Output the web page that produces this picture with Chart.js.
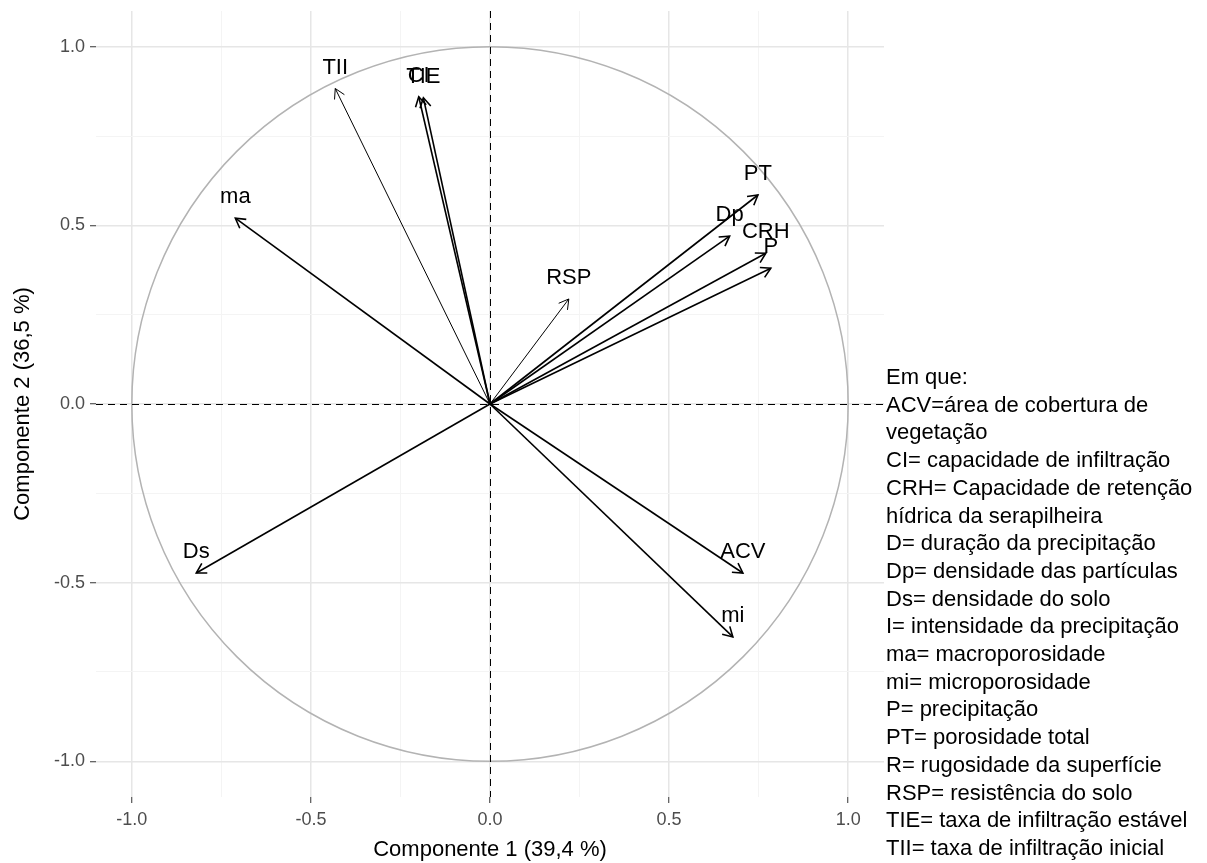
<!DOCTYPE html>
<html lang="pt">
<head>
<meta charset="utf-8">
<title>Círculo de correlações - Componentes 1 e 2</title>
<script src="https://cdn.jsdelivr.net/npm/chart.js@4.4.1/dist/chart.umd.min.js"></script>
<style>
  html, body { margin: 0; padding: 0; background: #ffffff; }
  #wrap { width: 1207px; height: 863px; position: relative; }
  canvas { display: block; }
</style>
</head>
<body>
<div id="wrap"><canvas id="pca" width="1207" height="863"></canvas></div>
<script>
// Variable codes and their loadings on the first two components
const variables = ['TII', 'CI', 'TIE', 'ma', 'Ds', 'RSP', 'PT', 'Dp', 'CRH', 'P', 'ACV', 'mi'];
const comp1 = [-0.432, -0.199, -0.186, -0.711, -0.820, 0.220, 0.748, 0.669, 0.770, 0.784, 0.706, 0.678];
const comp2 = [0.883, 0.860, 0.857, 0.520, -0.473, 0.294, 0.585, 0.470, 0.422, 0.380, -0.473, -0.652];

// Lines drawn with a lighter stroke
const thinLines = ['TII', 'RSP'];

// Axis ticks (labelled) and minor grid positions
const majorTicks = [-1, -0.5, 0, 0.5, 1];
const minorTicks = [-0.75, -0.25, 0.25, 0.75];
const axisLimits = [-1.1, 1.1];

const xTitle = 'Componente 1 (39,4 %)';
const yTitle = 'Componente 2 (36,5 %)';

// Key of abbreviations shown beside the plot
const keyLines = [
  'Em que:',
  'ACV=área de cobertura de',
  'vegetação',
  'CI= capacidade de infiltração',
  'CRH= Capacidade de retenção',
  'hídrica da serapilheira',
  'D= duração da precipitação',
  'Dp= densidade das partículas',
  'Ds= densidade do solo',
  'I= intensidade da precipitação',
  'ma= macroporosidade',
  'mi= microporosidade',
  'P= precipitação',
  'PT= porosidade total',
  'R= rugosidade da superfície',
  'RSP= resistência do solo',
  'TIE= taxa de infiltração estável',
  'TII= taxa de infiltração inicial'
];

const FONT = "'Liberation Sans', Arial, Helvetica, sans-serif";

const allTicks = majorTicks.concat(minorTicks).sort((a, b) => a - b);
const isMinor = v => minorTicks.some(m => Math.abs(m - v) < 1e-9);
const strokeFor = name => thinLines.includes(name) ? 1.0 : 1.6;

// One two-point line per variable: origin -> loading
const datasets = variables.map((name, i) => ({
  label: name,
  data: [{ x: 0, y: 0 }, { x: comp1[i], y: comp2[i] }],
  showLine: true,
  borderColor: '#000000',
  borderWidth: strokeFor(name),
  pointRadius: 0,
  pointHoverRadius: 0,
  fill: false
}));

function axisOptions(title, titlePadding, fit, tickPad) {
  return {
    type: 'linear',
    min: axisLimits[0],
    max: axisLimits[1],
    afterBuildTicks: scale => { scale.ticks = allTicks.map(v => ({ value: v })); },
    afterFit: scale => {
      fit(scale);
      scale.paddingTop = 0; scale.paddingBottom = 0;
      scale.paddingLeft = 0; scale.paddingRight = 0;
    },
    border: { display: false },
    grid: {
      drawTicks: true,
      tickLength: 6,
      tickWidth: 1,
      color: ctx => (ctx.tick && isMinor(ctx.tick.value)) ? '#f4f4f4' : '#e6e6e6',
      lineWidth: ctx => (ctx.tick && isMinor(ctx.tick.value)) ? 1 : 1.5,
      tickColor: ctx => (ctx.tick && isMinor(ctx.tick.value)) ? 'rgba(0,0,0,0)' : '#333333'
    },
    ticks: {
      autoSkip: false,
      maxRotation: 0,
      padding: tickPad,
      color: '#4d4d4d',
      font: { family: FONT, size: 18 },
      callback: v => isMinor(v) ? '' : Number(v).toFixed(1)
    },
    title: {
      display: true,
      text: title,
      color: '#000000',
      font: { family: FONT, size: 22 },
      padding: titlePadding
    }
  };
}

// Unit circle and dashed zero lines, drawn beneath the arrows
const referencePlugin = {
  id: 'reference',
  beforeDatasetsDraw(chart) {
    const { ctx, chartArea, scales: { x, y } } = chart;
    const cx = x.getPixelForValue(0), cy = y.getPixelForValue(0);
    const rx = x.getPixelForValue(1) - cx, ry = cy - y.getPixelForValue(1);
    ctx.save();
    ctx.strokeStyle = '#b3b3b3';
    ctx.lineWidth = 1.5;
    ctx.beginPath();
    ctx.ellipse(cx, cy, rx, ry, 0, 0, Math.PI * 2);
    ctx.stroke();

    // crisp dashed axes through the origin
    const vx = Math.round(cx) + 0.5, hy = Math.round(cy) + 0.5;
    ctx.strokeStyle = '#000000';
    ctx.lineWidth = 1;
    ctx.setLineDash([7, 5]);
    ctx.beginPath();
    ctx.moveTo(vx, chartArea.top);
    ctx.lineTo(vx, chartArea.bottom);
    ctx.moveTo(chartArea.left, hy);
    ctx.lineTo(chartArea.right, hy);
    ctx.stroke();
    ctx.restore();
  }
};

// Open arrowheads and variable names at the end of each line
const arrowPlugin = {
  id: 'arrows',
  afterDatasetsDraw(chart) {
    const { ctx } = chart;
    ctx.save();
    chart.data.datasets.forEach((ds, i) => {
      const pts = chart.getDatasetMeta(i).data;
      const a = pts[0], b = pts[1];
      const ang = Math.atan2(b.y - a.y, b.x - a.x);
      const len = 11, spread = Math.PI / 6;
      ctx.strokeStyle = '#000000';
      ctx.lineWidth = ds.borderWidth;
      ctx.beginPath();
      ctx.moveTo(b.x - len * Math.cos(ang - spread), b.y - len * Math.sin(ang - spread));
      ctx.lineTo(b.x, b.y);
      ctx.lineTo(b.x - len * Math.cos(ang + spread), b.y - len * Math.sin(ang + spread));
      ctx.stroke();

      ctx.fillStyle = '#000000';
      ctx.font = '22px ' + FONT;
      ctx.textAlign = 'center';
      ctx.textBaseline = 'middle';
      ctx.fillText(ds.label, b.x, b.y - 21);
    });
    ctx.restore();
  }
};

// Abbreviation key to the right of the panel
const keyPlugin = {
  id: 'key',
  afterDraw(chart) {
    const { ctx, chartArea } = chart;
    ctx.save();
    ctx.fillStyle = '#000000';
    ctx.font = '22px ' + FONT;
    ctx.textAlign = 'left';
    ctx.textBaseline = 'middle';
    keyLines.forEach((line, i) => {
      ctx.fillText(line, chartArea.right + 2, 378 + i * 27.7);
    });
    ctx.restore();
  }
};

new Chart(document.getElementById('pca'), {
  type: 'scatter',
  data: { datasets },
  options: {
    responsive: false,
    animation: false,
    devicePixelRatio: 1,
    layout: { padding: { left: 0, right: 323, top: 11, bottom: 0 } },
    plugins: {
      legend: { display: false },
      tooltip: { enabled: false }
    },
    scales: {
      x: axisOptions(xTitle, { top: 0, bottom: 0 }, s => { s.height = 66; }, 6),
      y: axisOptions(yTitle, { top: 10, bottom: 0 }, s => { s.width = 96; }, 5)
    }
  },
  plugins: [referencePlugin, arrowPlugin, keyPlugin]
});
</script>
</body>
</html>
